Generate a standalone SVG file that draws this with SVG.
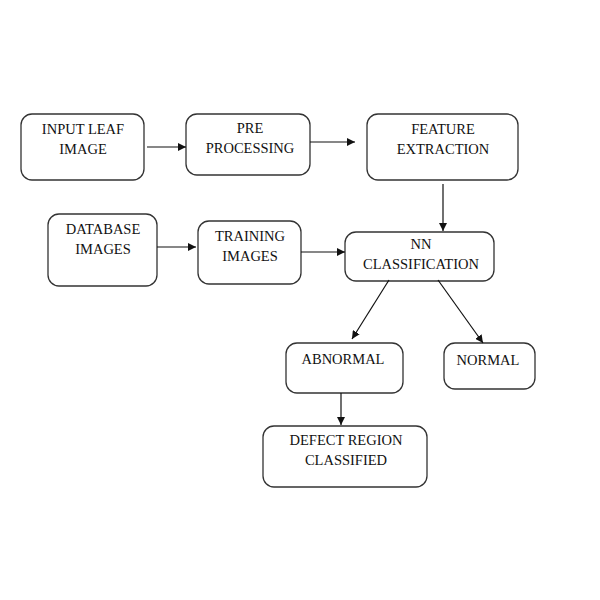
<svg xmlns="http://www.w3.org/2000/svg" width="600" height="600" viewBox="0 0 600 600">
<defs>
<marker id="ah" viewBox="0 0 10 10" refX="10" refY="5" markerWidth="8" markerHeight="8" markerUnits="userSpaceOnUse" orient="auto">
<path d="M0,0 L10,5 L0,10 z" fill="#111"/>
</marker>
<style>
.box{fill:#fff;stroke:#333;stroke-width:1.3}
.t{font-family:"Liberation Serif","Times New Roman",serif;font-size:14.5px;fill:#111;text-anchor:middle}
.c{stroke:#111;stroke-width:1.2;fill:none;marker-end:url(#ah)}
</style>
</defs>
<rect width="600" height="600" fill="#fff"/>
<g id="input">
<rect class="box" x="21" y="114" width="123" height="66" rx="11"/>
<text class="t" x="83" y="134">INPUT LEAF</text>
<text class="t" x="83" y="154">IMAGE</text>
</g>
<g id="pre">
<rect class="box" x="186" y="114" width="124" height="61" rx="11"/>
<text class="t" x="250" y="133">PRE</text>
<text class="t" x="250" y="153">PROCESSING</text>
</g>
<g id="feature">
<rect class="box" x="367" y="114" width="151" height="66" rx="11"/>
<text class="t" x="443" y="134">FEATURE</text>
<text class="t" x="443" y="154">EXTRACTION</text>
</g>
<g id="database">
<rect class="box" x="48" y="214" width="109" height="72" rx="11"/>
<text class="t" x="103" y="234">DATABASE</text>
<text class="t" x="103" y="254">IMAGES</text>
</g>
<g id="training">
<rect class="box" x="198" y="221" width="103" height="63" rx="11"/>
<text class="t" x="250" y="241">TRAINING</text>
<text class="t" x="250" y="261">IMAGES</text>
</g>
<g id="nn">
<rect class="box" x="345" y="232" width="149" height="49" rx="11"/>
<text class="t" x="421" y="249">NN</text>
<text class="t" x="421" y="269">CLASSIFICATION</text>
</g>
<g id="abnormal">
<rect class="box" x="286" y="343" width="117" height="50" rx="11"/>
<text class="t" x="343" y="364">ABNORMAL</text>
</g>
<g id="normal">
<rect class="box" x="444" y="343" width="91" height="46" rx="11"/>
<text class="t" x="488" y="365">NORMAL</text>
</g>
<g id="defect">
<rect class="box" x="263" y="426" width="164" height="61" rx="11"/>
<text class="t" x="346" y="445">DEFECT REGION</text>
<text class="t" x="346" y="465">CLASSIFIED</text>
</g>
<g id="connectors">
<line class="c" x1="147" y1="147" x2="186" y2="147"/>
<line class="c" x1="310" y1="142" x2="355" y2="142"/>
<line class="c" x1="443" y1="184" x2="443" y2="231"/>
<line class="c" x1="157" y1="247" x2="196" y2="247"/>
<line class="c" x1="301" y1="252" x2="345" y2="252"/>
<line class="c" x1="389" y1="280" x2="352" y2="339"/>
<line class="c" x1="438" y1="280" x2="483" y2="343"/>
<line class="c" x1="341" y1="393" x2="341" y2="425"/>
</g>
</svg>
